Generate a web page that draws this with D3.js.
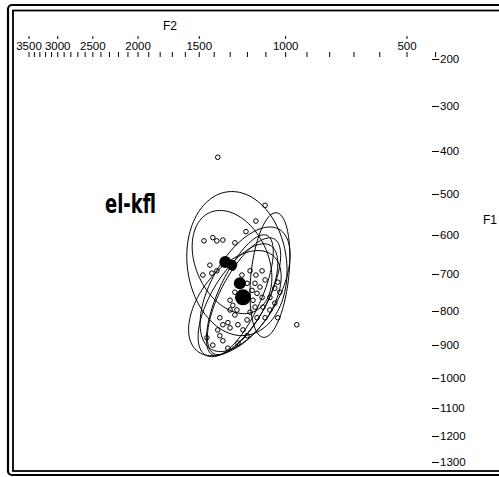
<!DOCTYPE html>
<html>
<head>
<meta charset="utf-8">
<script src="https://cdn.jsdelivr.net/npm/d3@7"></script>
<style>
  body { margin: 0; background: #fff; }
  text { font-family: "Liberation Sans", Arial, sans-serif; }
</style>
</head>
<body>
<div id="chart"></div>
<script>
// F2 / F1 token values in Hz
const tokF2 = [1377, 1104, 1153, 1208, 1468, 1409, 1383, 1345, 1272,
  1428, 1475, 1415, 1383, 1284, 1231, 1185, 1153, 1120, 1104, 1202, 1158, 1131,
  1272, 1174, 1147, 1196, 1169, 1120, 1079, 1054, 1039, 1029, 1301, 1284, 1260,
  1301, 1272, 1185, 1158, 1115, 1079, 1054, 1202, 1147, 1104, 1039, 1364, 1345,
  1314, 1254, 1225, 1301, 1448, 1364, 1345, 1202, 947, 1377, 1409, 1314, 1254];
const tokF1 = [415, 527, 565, 591, 614, 606, 614, 612, 619,
  676, 702, 697, 691, 684, 702, 691, 702, 691, 715, 724, 724, 734,
  748, 743, 751, 756, 770, 762, 762, 737, 721, 748, 770, 784, 797,
  797, 811, 803, 789, 789, 797, 778, 825, 819, 819, 819, 819, 839,
  833, 839, 854, 848, 877, 871, 886, 871, 839, 854, 899, 908, 893];

// group means
const meanF2 = [1330, 1289, 1243, 1225];
const meanF1 = [668, 676, 724, 762];
const meanN = [9, 7, 9, 16];

// ellipses: centre (Hz), sd in Bark, F1-F2 correlation
const ellF2 = [1260, 1289, 1079, 1243, 1219, 1254, 1272, 1213];
const ellF1 = [672, 668, 702, 756, 759, 770, 778, 740];
const ellSd2 = [0.78, 0.62, 0.31, 0.52, 0.57, 0.62, 0.72, 0.70];
const ellSd1 = [0.74, 0.53, 0.64, 0.62, 0.60, 0.58, 0.54, 0.64];
const ellR = [-0.1, -0.3, 0.3, 0.72, 0.7, 0.65, 0.5, 0.55];

const f2Major = [3500, 3000, 2500, 2000, 1500, 1000, 500];
const f2Minor = d3.range(3500, 399, -100);
const f1Ticks = d3.range(200, 1301, 100);

const label = "el-kfl";

const width = 499, height = 477;

// Zwicker bark
const bark = f => 13 * Math.atan(0.00076 * f) + 3.5 * Math.atan(Math.pow(f / 7500, 2));

const xb = d3.scaleLinear().domain([bark(3500), bark(500)]).range([29, 407]);
const yb = d3.scaleLinear().domain([bark(200), bark(1300)]).range([59, 461.7]);
const x = f => xb(bark(f));
const y = f => yb(bark(f));

const svg = d3.select("#chart").append("svg")
    .attr("width", width)
    .attr("height", height);

// double frame
svg.append("rect")
    .attr("x", 8).attr("y", 5).attr("width", 520).attr("height", 470).attr("rx", 4)
    .attr("fill", "none").attr("stroke", "#000").attr("stroke-width", 2.2);
svg.append("rect")
    .attr("x", 13).attr("y", 10.5).attr("width", 520).attr("height", 460.5)
    .attr("fill", "none").attr("stroke", "#000").attr("stroke-width", 1.8);

// F2 axis (top)
svg.append("text").attr("x", 170).attr("y", 30).attr("text-anchor", "middle")
    .style("font-size", "12px").text("F2");
svg.selectAll(".f2maj").data(f2Major).join("line")
    .attr("x1", d => x(d)).attr("x2", d => x(d))
    .attr("y1", 36).attr("y2", 39).attr("stroke", "#000");
svg.selectAll(".f2lab").data(f2Major).join("text")
    .attr("x", d => x(d)).attr("y", 50).attr("text-anchor", "middle")
    .style("font-size", "11.5px").text(d => d);
svg.selectAll(".f2min").data(f2Minor).join("line")
    .attr("x1", d => x(d)).attr("x2", d => x(d))
    .attr("y1", 52).attr("y2", 57).attr("stroke", "#000");

// F1 axis (right)
svg.append("text").attr("x", 483).attr("y", 224)
    .style("font-size", "12px").text("F1");
svg.selectAll(".f1tick").data(f1Ticks).join("line")
    .attr("x1", 432).attr("x2", 439)
    .attr("y1", d => Math.round(y(d)) + 0.5).attr("y2", d => Math.round(y(d)) + 0.5)
    .attr("stroke", "#000");
svg.selectAll(".f1lab").data(f1Ticks).join("text")
    .attr("x", 440).attr("y", d => y(d) + 4)
    .style("font-size", "11.5px").text(d => d);

// ellipses
const ellipse = i => {
  const c2 = bark(ellF2[i]), c1 = bark(ellF1[i]), r = ellR[i];
  const pts = d3.range(0, 2 * Math.PI, Math.PI / 60).map(t => {
    const u = Math.cos(t), v = r * Math.cos(t) + Math.sqrt(1 - r * r) * Math.sin(t);
    return [xb(c2 + 2 * ellSd2[i] * u), yb(c1 + 2 * ellSd1[i] * v)];
  });
  return d3.line().curve(d3.curveLinearClosed)(pts);
};
svg.selectAll(".ell").data(d3.range(ellF2.length)).join("path")
    .attr("d", ellipse)
    .attr("fill", "none").attr("stroke", "#000").attr("stroke-width", 1);

// tokens
svg.selectAll(".tok").data(d3.range(tokF2.length)).join("circle")
    .attr("cx", i => x(tokF2[i])).attr("cy", i => y(tokF1[i]))
    .attr("r", 2.3)
    .attr("fill", "none").attr("stroke", "#000").attr("stroke-width", 1);

// means
const rs = d3.scaleSqrt().domain([0, 16]).range([0, 8]);
svg.selectAll(".mean").data(d3.range(meanF2.length)).join("circle")
    .attr("cx", i => x(meanF2[i])).attr("cy", i => y(meanF1[i]))
    .attr("r", i => rs(meanN[i]))
    .attr("fill", "#000");

// vowel label
svg.append("text").attr("x", 105).attr("y", 213)
    .attr("textLength", 51).attr("lengthAdjust", "spacingAndGlyphs")
    .style("font-family", "'Liberation Sans Narrow', 'DejaVu Sans Condensed', sans-serif")
    .style("font-weight", "bold").style("font-size", "26px")
    .text(label);
</script>
</body>
</html>
